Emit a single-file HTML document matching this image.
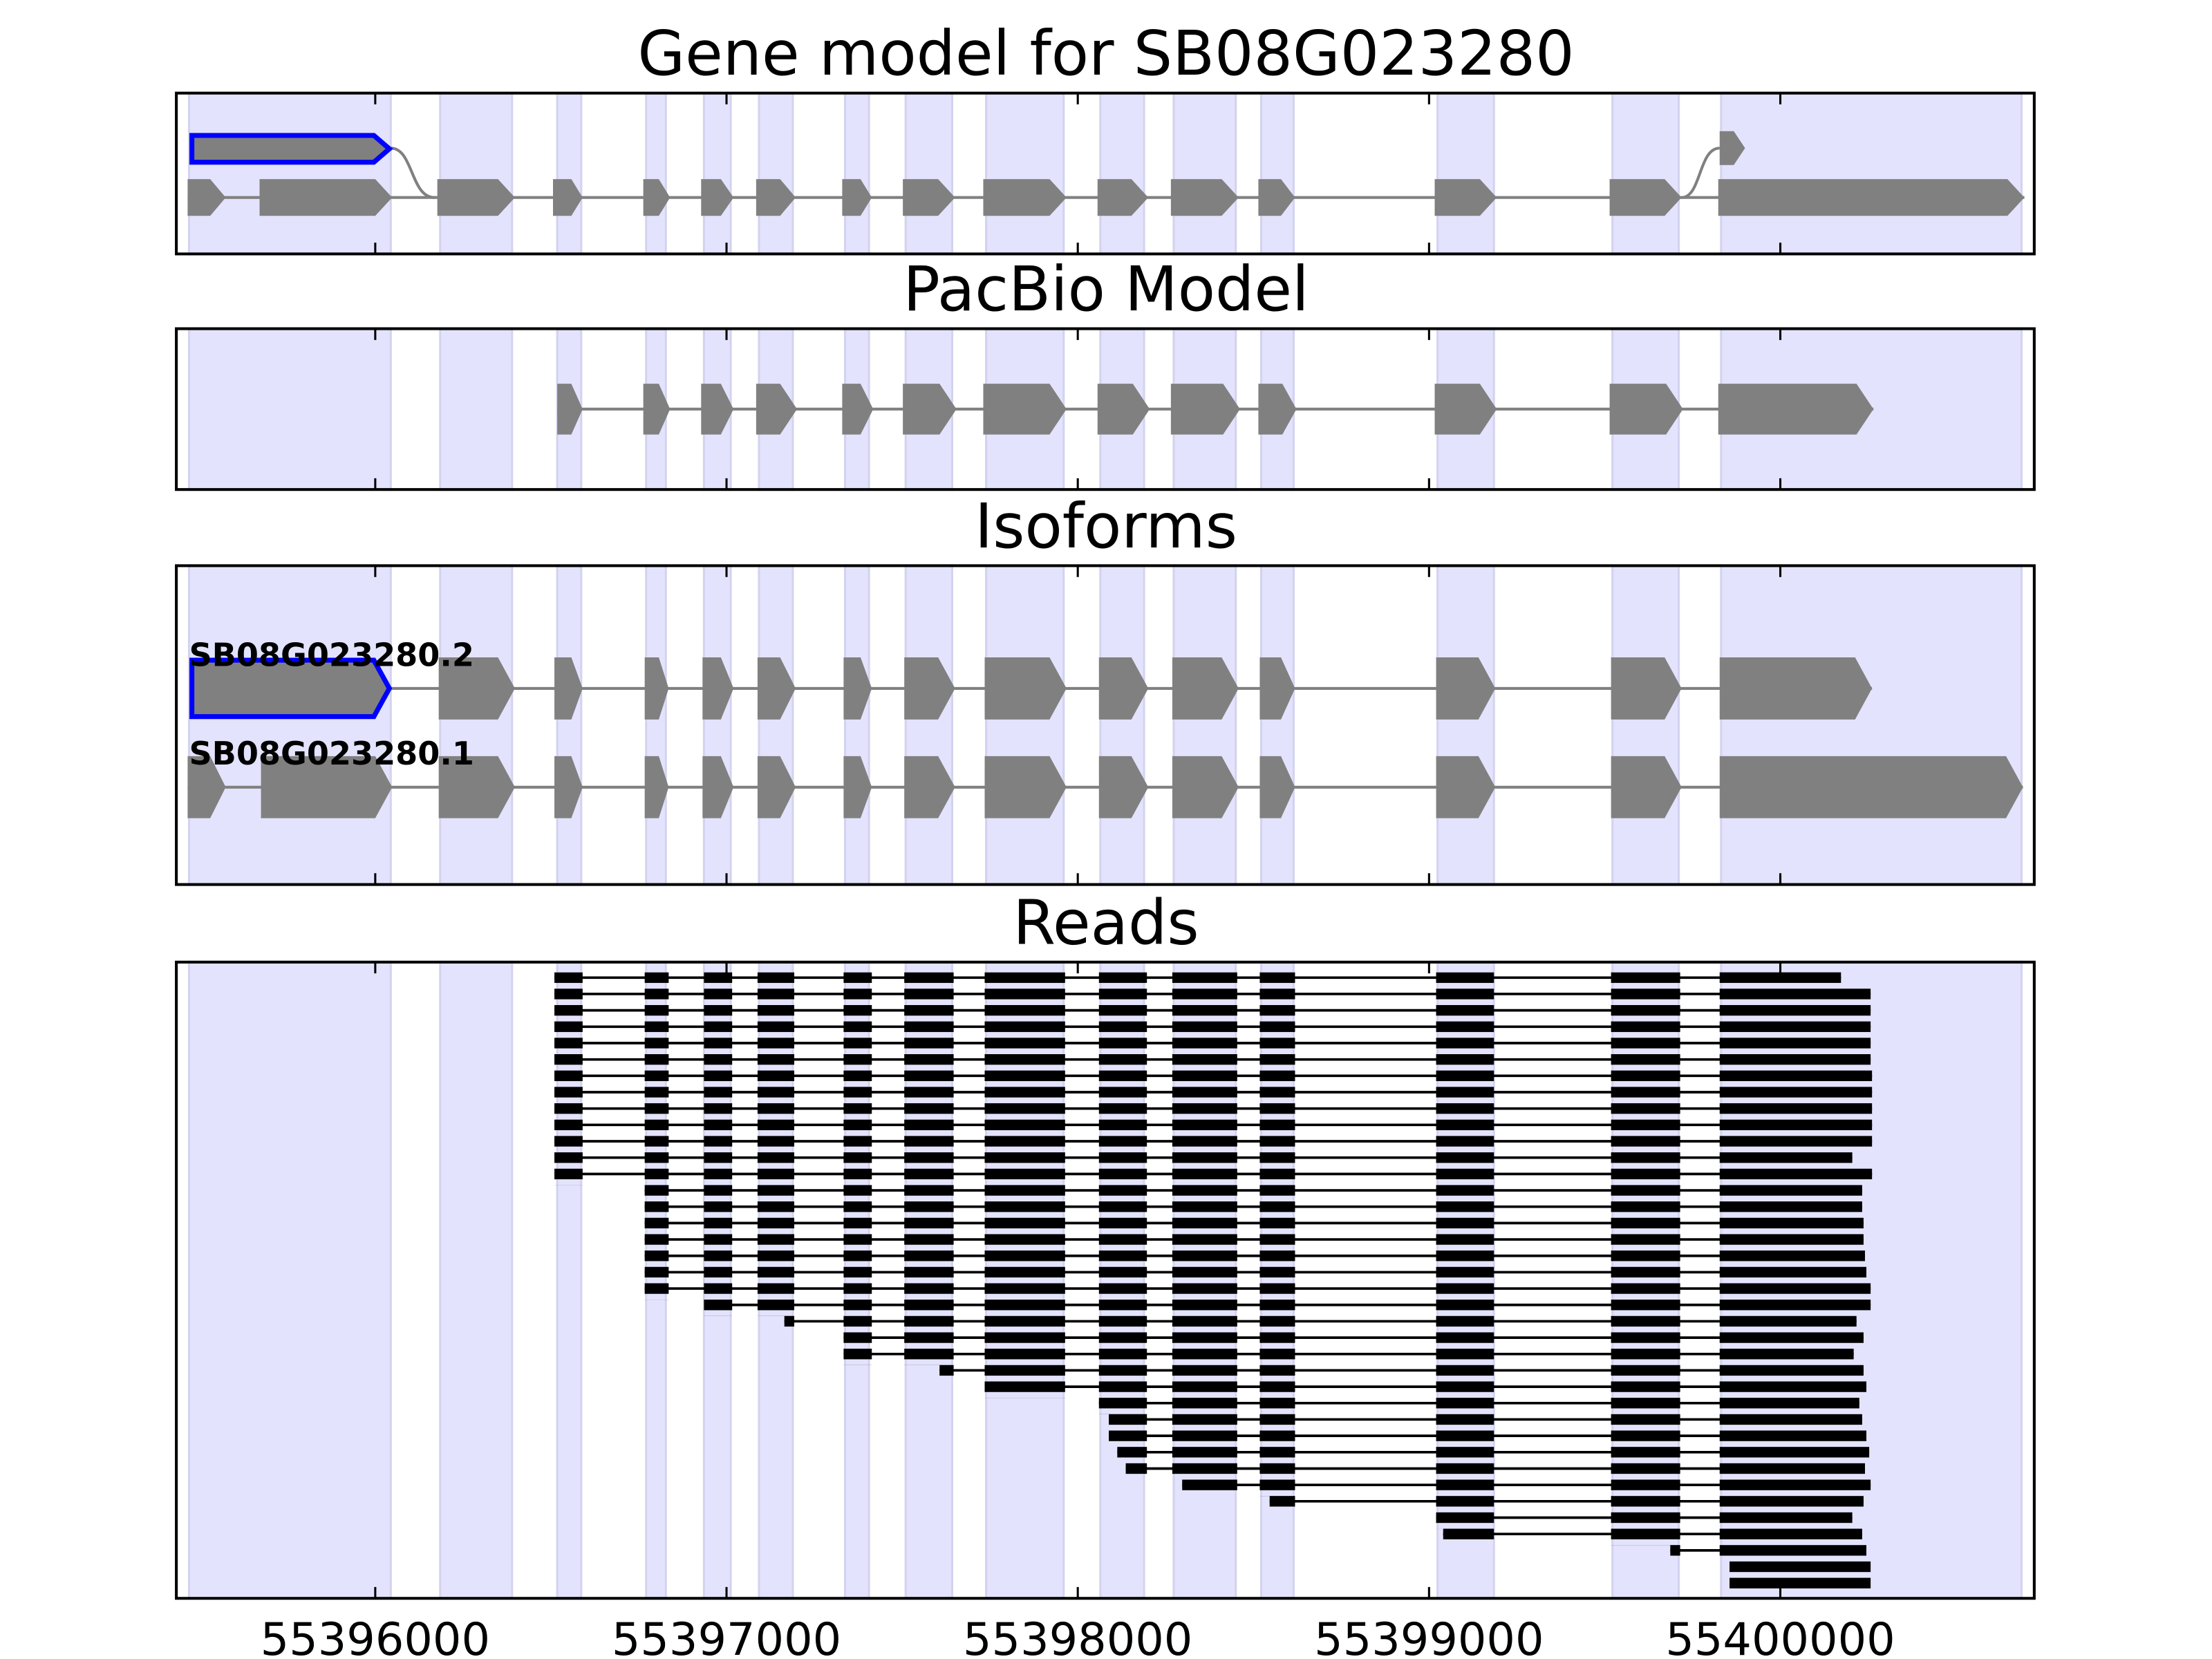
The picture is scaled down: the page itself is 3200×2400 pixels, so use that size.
<!DOCTYPE html>
<html><head><meta charset="utf-8"><style>html,body{margin:0;padding:0;background:#fff}svg{display:block}</style></head>
<body>
<svg width="3200" height="2400" viewBox="0 0 1568 1176" xmlns="http://www.w3.org/2000/svg" font-family="'DejaVu Sans','Liberation Sans',sans-serif">
<defs>
<pattern id="bar" patternUnits="userSpaceOnUse" x="0" y="689.25" width="10" height="11.6"><rect x="0" y="0" width="10" height="7.5" fill="#000"/></pattern>
</defs>
<rect width="1568" height="1176" fill="#fff"/>
<g fill="#e3e3fd" stroke="#d3d3f0" stroke-width="1.5">
<rect x="134" y="66" width="143" height="1067"/>
<rect x="312" y="66" width="51" height="1067"/>
<rect x="395" y="66" width="17" height="1067"/>
<rect x="458" y="66" width="14" height="1067"/>
<rect x="499" y="66" width="19" height="1067"/>
<rect x="538" y="66" width="24" height="1067"/>
<rect x="599" y="66" width="17" height="1067"/>
<rect x="642" y="66" width="33" height="1067"/>
<rect x="699" y="66" width="55" height="1067"/>
<rect x="780" y="66" width="31" height="1067"/>
<rect x="832" y="66" width="44" height="1067"/>
<rect x="894" y="66" width="23" height="1067"/>
<rect x="1019" y="66" width="40" height="1067"/>
<rect x="1143" y="66" width="47" height="1067"/>
<rect x="1220" y="66" width="213" height="1067"/>
</g>
<g fill="#fff">
<rect x="0" y="181" width="1568" height="51"/>
<rect x="0" y="348" width="1568" height="52"/>
<rect x="0" y="628" width="1568" height="53"/>
</g>

<g stroke="#808080" stroke-width="2" fill="none">
<line x1="133" y1="140" x2="1435" y2="140"/>
<path d="M277,105 C293,105 291,140 308,140"/>
<path d="M1192,140 C1206,140 1204,105 1219,105"/>
</g>
<g fill="#808080">
<polygon points="133,127 149,127 160,140 149,153 133,153"/>
<polygon points="184,127 266,127 278,140 266,153 184,153"/>
<polygon points="310,127 353,127 365,140 353,153 310,153"/>
<polygon points="392,127 405,127 413,140 405,153 392,153"/>
<polygon points="456,127 467,127 475,140 467,153 456,153"/>
<polygon points="497,127 511,127 520,140 511,153 497,153"/>
<polygon points="536,127 553,127 564,140 553,153 536,153"/>
<polygon points="597,127 610,127 618,140 610,153 597,153"/>
<polygon points="640,127 665,127 677,140 665,153 640,153"/>
<polygon points="697,127 744,127 756,140 744,153 697,153"/>
<polygon points="778,127 802,127 814,140 802,153 778,153"/>
<polygon points="830,127 866,127 878,140 866,153 830,153"/>
<polygon points="892,127 908,127 918,140 908,153 892,153"/>
<polygon points="1017,127 1049,127 1061,140 1049,153 1017,153"/>
<polygon points="1141,127 1180,127 1192,140 1180,153 1141,153"/>
<polygon points="1218,127 1423,127 1435,140 1423,153 1218,153"/>
<polygon points="1219,93 1229,93 1237,105 1229,117 1219,117"/>
</g>
<polygon points="136,96 265,96 276,105.5 265,115 136,115" fill="#808080" stroke="#0000ff" stroke-width="3.5"/>

<line x1="395" y1="290" x2="1328" y2="290" stroke="#808080" stroke-width="2"/>
<g fill="#808080">
<polygon points="395,272 405,272 413,290 405,308 395,308"/>
<polygon points="456,272 467,272 475,290 467,308 456,308"/>
<polygon points="497,272 511,272 520,290 511,308 497,308"/>
<polygon points="536,272 553,272 565,290 553,308 536,308"/>
<polygon points="597,272 610,272 619,290 610,308 597,308"/>
<polygon points="640,272 666,272 678,290 666,308 640,308"/>
<polygon points="697,272 744,272 756,290 744,308 697,308"/>
<polygon points="778,272 803,272 815,290 803,308 778,308"/>
<polygon points="830,272 867,272 879,290 867,308 830,308"/>
<polygon points="892,272 909,272 919,290 909,308 892,308"/>
<polygon points="1017,272 1049,272 1061,290 1049,308 1017,308"/>
<polygon points="1141,272 1181,272 1193,290 1181,308 1141,308"/>
<polygon points="1218,272 1316,272 1328,290 1316,308 1218,308"/>
</g>

<g stroke="#808080" stroke-width="2">
<line x1="277" y1="488" x2="1327" y2="488"/>
<line x1="133" y1="558" x2="1434" y2="558"/>
</g>
<g fill="#808080">
<polygon points="311,466 353,466 365,488 353,510 311,510"/>
<polygon points="393,466 405,466 413,488 405,510 393,510"/>
<polygon points="457,466 467,466 474,488 467,510 457,510"/>
<polygon points="498,466 511,466 520,488 511,510 498,510"/>
<polygon points="537,466 553,466 564,488 553,510 537,510"/>
<polygon points="598,466 610,466 618,488 610,510 598,510"/>
<polygon points="641,466 665,466 677,488 665,510 641,510"/>
<polygon points="698,466 744,466 756,488 744,510 698,510"/>
<polygon points="779,466 802,466 814,488 802,510 779,510"/>
<polygon points="831,466 866,466 878,488 866,510 831,510"/>
<polygon points="893,466 908,466 918,488 908,510 893,510"/>
<polygon points="1018,466 1048,466 1060,488 1048,510 1018,510"/>
<polygon points="1142,466 1180,466 1192,488 1180,510 1142,510"/>
<polygon points="1219,466 1315,466 1327,488 1315,510 1219,510"/>

<polygon points="133,536 149,536 160,558 149,580 133,580"/>
<polygon points="185,536 266,536 278,558 266,580 185,580"/>
<polygon points="311,536 353,536 365,558 353,580 311,580"/>
<polygon points="393,536 405,536 413,558 405,580 393,580"/>
<polygon points="457,536 467,536 474,558 467,580 457,580"/>
<polygon points="498,536 511,536 520,558 511,580 498,580"/>
<polygon points="537,536 553,536 564,558 553,580 537,580"/>
<polygon points="598,536 610,536 618,558 610,580 598,580"/>
<polygon points="641,536 665,536 677,558 665,580 641,580"/>
<polygon points="698,536 744,536 756,558 744,580 698,580"/>
<polygon points="779,536 802,536 814,558 802,580 779,580"/>
<polygon points="831,536 866,536 878,558 866,580 831,580"/>
<polygon points="893,536 908,536 918,558 908,580 893,580"/>
<polygon points="1018,536 1048,536 1060,558 1048,580 1018,580"/>
<polygon points="1142,536 1180,536 1192,558 1180,580 1142,580"/>
<polygon points="1219,536 1422,536 1434,558 1422,580 1219,580"/>
</g>
<polygon points="136,468 265,468 276,488 265,508 136,508" fill="#808080" stroke="#0000ff" stroke-width="3.5"/>
<text x="134" y="472" font-size="22.6" font-weight="bold" fill="#000">SB08G023280.2</text>
<text x="134" y="542" font-size="22.6" font-weight="bold" fill="#000">SB08G023280.1</text>

<g stroke="#000" stroke-width="1.8">
<line x1="393" y1="693" x2="1305" y2="693"/>
<line x1="393" y1="704.6" x2="1326" y2="704.6"/>
<line x1="393" y1="716.2" x2="1326" y2="716.2"/>
<line x1="393" y1="727.8" x2="1326" y2="727.8"/>
<line x1="393" y1="739.4" x2="1326" y2="739.4"/>
<line x1="393" y1="751" x2="1326" y2="751"/>
<line x1="393" y1="762.6" x2="1327" y2="762.6"/>
<line x1="393" y1="774.2" x2="1327" y2="774.2"/>
<line x1="393" y1="785.8" x2="1327" y2="785.8"/>
<line x1="393" y1="797.4" x2="1327" y2="797.4"/>
<line x1="393" y1="809" x2="1327" y2="809"/>
<line x1="393" y1="820.6" x2="1313" y2="820.6"/>
<line x1="393" y1="832.2" x2="1327" y2="832.2"/>
<line x1="457" y1="843.8" x2="1320" y2="843.8"/>
<line x1="457" y1="855.4" x2="1320" y2="855.4"/>
<line x1="457" y1="867" x2="1321" y2="867"/>
<line x1="457" y1="878.6" x2="1321" y2="878.6"/>
<line x1="457" y1="890.2" x2="1322" y2="890.2"/>
<line x1="457" y1="901.8" x2="1323" y2="901.8"/>
<line x1="457" y1="913.4" x2="1326" y2="913.4"/>
<line x1="500" y1="925" x2="1326" y2="925"/>
<line x1="556" y1="936.6" x2="1316" y2="936.6"/>
<line x1="598" y1="948.2" x2="1321" y2="948.2"/>
<line x1="598" y1="959.8" x2="1314" y2="959.8"/>
<line x1="666" y1="971.4" x2="1321" y2="971.4"/>
<line x1="700" y1="983" x2="1323" y2="983"/>
<line x1="779" y1="994.6" x2="1318" y2="994.6"/>
<line x1="786" y1="1006.2" x2="1320" y2="1006.2"/>
<line x1="786" y1="1017.8" x2="1323" y2="1017.8"/>
<line x1="792" y1="1029.4" x2="1325" y2="1029.4"/>
<line x1="798" y1="1041" x2="1322" y2="1041"/>
<line x1="838" y1="1052.6" x2="1326" y2="1052.6"/>
<line x1="900" y1="1064.2" x2="1321" y2="1064.2"/>
<line x1="1018" y1="1075.8" x2="1313" y2="1075.8"/>
<line x1="1023" y1="1087.4" x2="1320" y2="1087.4"/>
<line x1="1184" y1="1099" x2="1323" y2="1099"/>
</g>
<g fill="url(#bar)">
<rect x="393" y="689.25" width="20" height="150.8"/>
<rect x="457" y="689.25" width="17" height="232"/>
<rect x="499" y="689.25" width="20" height="243.6"/>
<rect x="537" y="689.25" width="26" height="243.6"/>
<rect x="598" y="689.25" width="20" height="278.4"/>
<rect x="641" y="689.25" width="35" height="278.4"/>
<rect x="698" y="689.25" width="57" height="301.6"/>
<rect x="779" y="689.25" width="34" height="313.2"/>
<rect x="831" y="689.25" width="46" height="359.6"/>
<rect x="893" y="689.25" width="25" height="371.2"/>
<rect x="1018" y="689.25" width="41" height="394.4"/>
<rect x="1142" y="689.25" width="49" height="406"/>
</g>
<g fill="#000">
<rect x="556" y="932.85" width="7" height="7.5"/>
<rect x="666" y="967.65" width="10" height="7.5"/>
<rect x="786" y="1002.45" width="27" height="7.5"/>
<rect x="786" y="1014.05" width="27" height="7.5"/>
<rect x="792" y="1025.65" width="21" height="7.5"/>
<rect x="798" y="1037.25" width="15" height="7.5"/>
<rect x="838" y="1048.85" width="39" height="7.5"/>
<rect x="900" y="1060.45" width="18" height="7.5"/>
<rect x="1023" y="1083.65" width="36" height="7.5"/>
<rect x="1184" y="1095.25" width="7" height="7.5"/>
<rect x="1219" y="689.25" width="86" height="7.5"/>
<rect x="1219" y="700.85" width="107" height="7.5"/>
<rect x="1219" y="712.45" width="107" height="7.5"/>
<rect x="1219" y="724.05" width="107" height="7.5"/>
<rect x="1219" y="735.65" width="107" height="7.5"/>
<rect x="1219" y="747.25" width="107" height="7.5"/>
<rect x="1219" y="758.85" width="108" height="7.5"/>
<rect x="1219" y="770.45" width="108" height="7.5"/>
<rect x="1219" y="782.05" width="108" height="7.5"/>
<rect x="1219" y="793.65" width="108" height="7.5"/>
<rect x="1219" y="805.25" width="108" height="7.5"/>
<rect x="1219" y="816.85" width="94" height="7.5"/>
<rect x="1219" y="828.45" width="108" height="7.5"/>
<rect x="1219" y="840.05" width="101" height="7.5"/>
<rect x="1219" y="851.65" width="101" height="7.5"/>
<rect x="1219" y="863.25" width="102" height="7.5"/>
<rect x="1219" y="874.85" width="102" height="7.5"/>
<rect x="1219" y="886.45" width="103" height="7.5"/>
<rect x="1219" y="898.05" width="104" height="7.5"/>
<rect x="1219" y="909.65" width="107" height="7.5"/>
<rect x="1219" y="921.25" width="107" height="7.5"/>
<rect x="1219" y="932.85" width="97" height="7.5"/>
<rect x="1219" y="944.45" width="102" height="7.5"/>
<rect x="1219" y="956.05" width="95" height="7.5"/>
<rect x="1219" y="967.65" width="102" height="7.5"/>
<rect x="1219" y="979.25" width="104" height="7.5"/>
<rect x="1219" y="990.85" width="99" height="7.5"/>
<rect x="1219" y="1002.45" width="101" height="7.5"/>
<rect x="1219" y="1014.05" width="104" height="7.5"/>
<rect x="1219" y="1025.65" width="106" height="7.5"/>
<rect x="1219" y="1037.25" width="103" height="7.5"/>
<rect x="1219" y="1048.85" width="107" height="7.5"/>
<rect x="1219" y="1060.45" width="102" height="7.5"/>
<rect x="1219" y="1072.05" width="94" height="7.5"/>
<rect x="1219" y="1083.65" width="101" height="7.5"/>
<rect x="1219" y="1095.25" width="104" height="7.5"/>
<rect x="1226" y="1106.85" width="100" height="7.5"/>
<rect x="1226" y="1118.45" width="100" height="7.5"/>
</g>

<g fill="none" stroke="#000" stroke-width="2">
<rect x="125" y="66" width="1317" height="114"/>
<rect x="125" y="233" width="1317" height="114"/>
<rect x="125" y="401" width="1317" height="226"/>
<rect x="125" y="682" width="1317" height="451"/>
</g>
<g stroke="#000" stroke-width="1.5">
<path d="M266,66v8M515,66v8M764,66v8M1013,66v8M1262,66v8M266,180v-8M515,180v-8M764,180v-8M1013,180v-8M1262,180v-8"/>
<path d="M266,233v8M515,233v8M764,233v8M1013,233v8M1262,233v8M266,347v-8M515,347v-8M764,347v-8M1013,347v-8M1262,347v-8"/>
<path d="M266,401v8M515,401v8M764,401v8M1013,401v8M1262,401v8M266,627v-8M515,627v-8M764,627v-8M1013,627v-8M1262,627v-8"/>
<path d="M266,682v8M515,682v8M764,682v8M1013,682v8M1262,682v8M266,1133v-8M515,1133v-8M764,1133v-8M1013,1133v-8M1262,1133v-8"/>
</g>
<g font-size="43.5" text-anchor="middle" fill="#000">
<text x="784" y="53">Gene model for SB08G023280</text>
<text x="784" y="220">PacBio Model</text>
<text x="784" y="388">Isoforms</text>
<text x="784" y="669">Reads</text>
</g>
<g font-size="32" text-anchor="middle" fill="#000">
<text x="266" y="1173">55396000</text>
<text x="515" y="1173">55397000</text>
<text x="764" y="1173">55398000</text>
<text x="1013" y="1173">55399000</text>
<text x="1262" y="1173">55400000</text>
</g>
</svg>
</body></html>
